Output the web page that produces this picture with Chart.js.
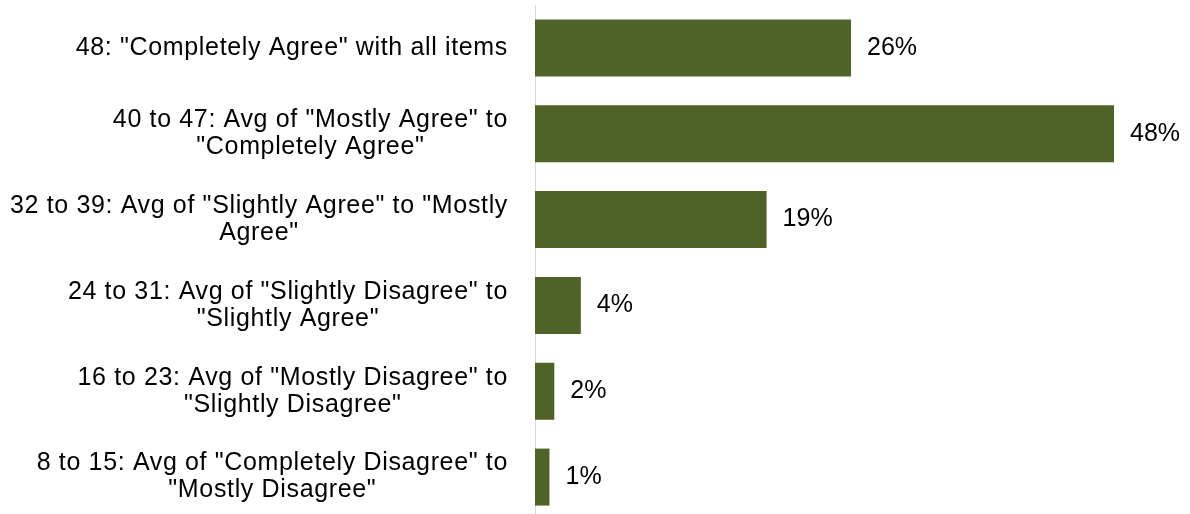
<!DOCTYPE html>
<html>
<head>
<meta charset="utf-8">
<script src="https://cdn.jsdelivr.net/npm/chart.js@4.4.1/dist/chart.umd.min.js"></script>
<style>
  html, body { margin: 0; padding: 0; background: #fff; overflow: hidden; }
  canvas { display: block; }
</style>
</head>
<body>
<canvas id="chart" width="1190" height="520"></canvas>
<script>
  // categories, one entry per bar (lines as they wrap in the original)
  const categories = [
    ['48: "Completely Agree" with all items'],
    ['40 to 47: Avg of "Mostly Agree" to', '"Completely Agree"'],
    ['32 to 39: Avg of "Slightly Agree" to "Mostly', 'Agree"'],
    ['24 to 31: Avg of "Slightly Disagree" to', '"Slightly Agree"'],
    ['16 to 23: Avg of "Mostly Disagree" to', '"Slightly Disagree"'],
    ['8 to 15: Avg of "Completely Disagree" to', '"Mostly Disagree"']
  ];
  const percentValues = [26.2, 48.0, 19.2, 3.8, 1.6, 1.2];
  const valueLabels = percentValues.map(v => Math.round(v) + '%');

  const BAR_COLOR = '#4F6228';
  const FONT = '25px "Liberation Sans", Arial, sans-serif';
  const LABEL_RIGHT = 508;
  const LINE_H = 27;

  // category labels: block right-aligned, lines centred inside it (Excel style)
  const sideLabels = {
    id: 'sideLabels',
    afterDatasetsDraw(chart) {
      const { ctx, scales: { y } } = chart;
      const meta = chart.getDatasetMeta(0);
      ctx.save();
      ctx.font = FONT;
      ctx.fillStyle = '#000';
      ctx.textBaseline = 'middle';
      categories.forEach((lines, i) => {
        const cy = y.getPixelForTick(i);
        ctx.letterSpacing = '0.65px';
        const w = Math.max(...lines.map(l => ctx.measureText(l).width));
        ctx.textAlign = 'center';
        lines.forEach((line, j) => {
          ctx.fillText(line, LABEL_RIGHT - w / 2, cy + (j - (lines.length - 1) / 2) * LINE_H);
        });
        ctx.letterSpacing = '0px';
        const bar = meta.data[i];
        ctx.textAlign = 'left';
        ctx.fillText(valueLabels[i], bar.x + 16, bar.y);
      });
      ctx.restore();
    }
  };

  new Chart(document.getElementById('chart').getContext('2d'), {
    type: 'bar',
    data: {
      labels: categories,
      datasets: [{
        data: percentValues,
        backgroundColor: BAR_COLOR,
        borderWidth: 0,
        categoryPercentage: 1,
        barPercentage: 0.664
      }]
    },
    options: {
      indexAxis: 'y',
      responsive: false,
      animation: false,
      events: [],
      layout: { padding: { left: 535, right: 76, top: 5, bottom: 0 } },
      plugins: { legend: { display: false }, tooltip: { enabled: false } },
      scales: {
        x: { display: false, min: 0, max: 48 },
        y: {
          display: true,
          ticks: { display: false, padding: 0 },
          grid: { display: false, drawTicks: false },
          border: { display: true, color: '#D9D9D9', width: 1 }
        }
      }
    },
    plugins: [sideLabels]
  });
</script>
</body>
</html>
